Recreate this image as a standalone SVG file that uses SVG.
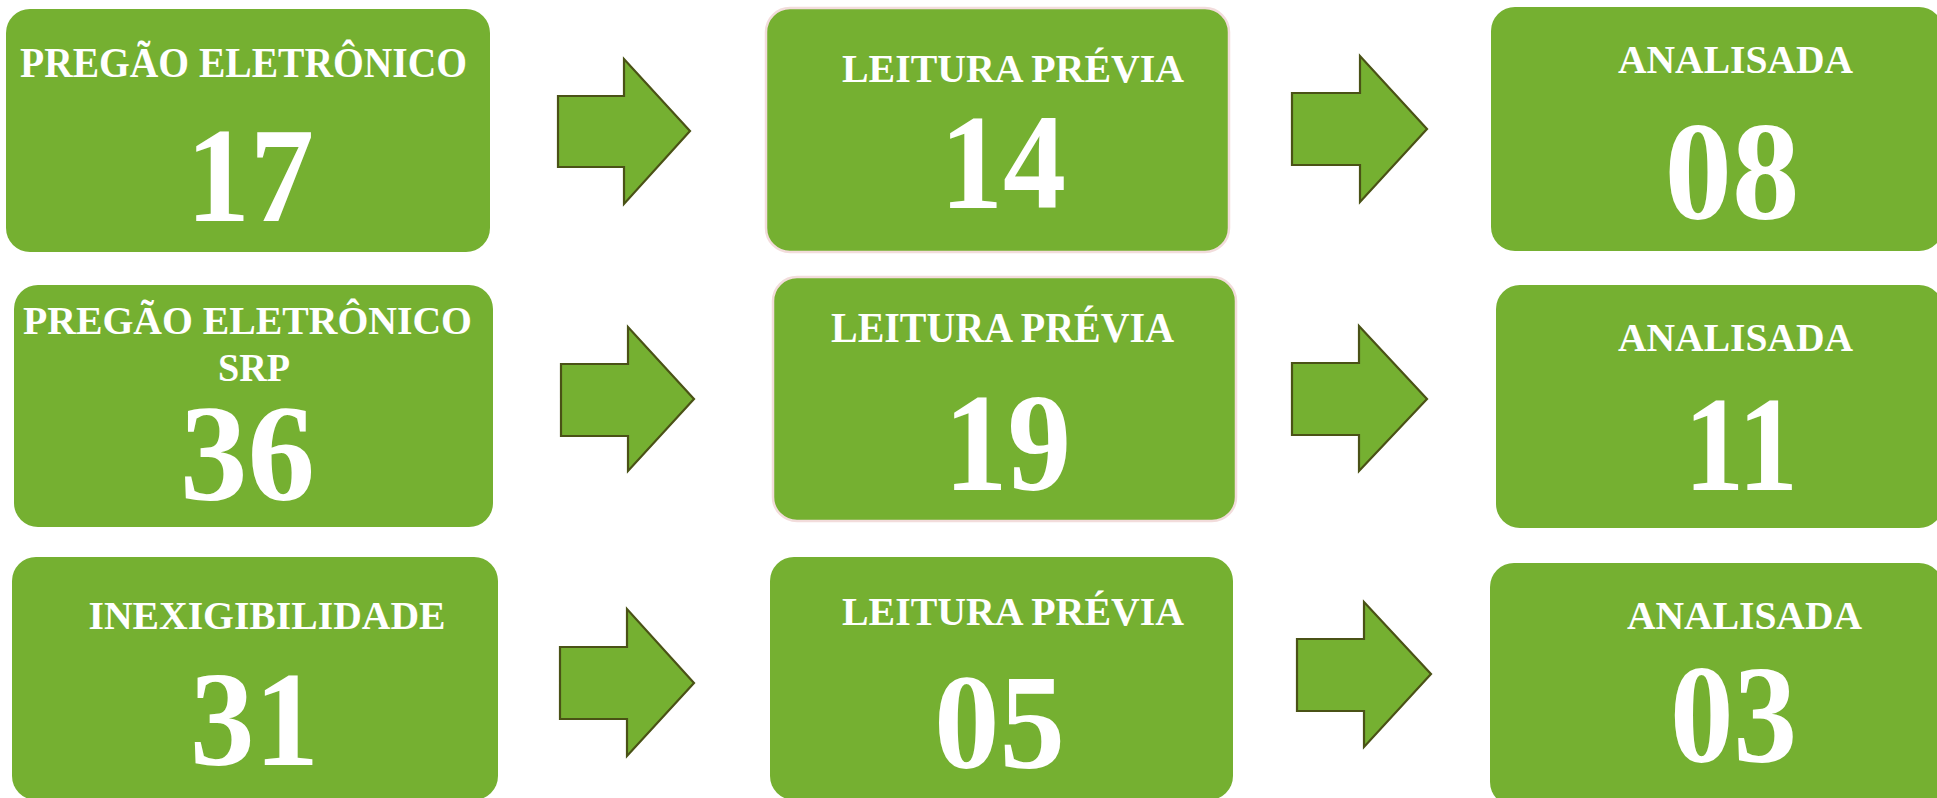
<svg xmlns="http://www.w3.org/2000/svg" width="1937" height="798" viewBox="0 0 1937 798">
<style>
.box{fill:#75B031;}
.boxb{fill:#75B031;stroke:#F2DCDB;stroke-width:2.5;}
.arrow{fill:#75B031;stroke:#4A5216;stroke-width:2.2;stroke-linejoin:miter;}
.lbl{font-family:"Liberation Serif","Times New Roman",serif;font-weight:bold;fill:#FFFFFF;text-anchor:middle;}
.num{font-family:"Liberation Serif","Times New Roman",serif;font-weight:bold;fill:#FFFFFF;text-anchor:middle;}
</style>
<rect width="1937" height="798" fill="#FFFFFF"/>
<g id="connectors">
<polygon class="arrow" points="558,96 624,96 624,59 690,131 624,204 624,167 558,167"/>
<polygon class="arrow" points="1292,93 1360,93 1360,56 1427,129 1360,202 1360,165 1292,165"/>
<polygon class="arrow" points="561,364 628,364 628,327 694,399 628,471 628,436 561,436"/>
<polygon class="arrow" points="1292,363 1359,363 1359,326 1427,399 1359,471 1359,435 1292,435"/>
<polygon class="arrow" points="560,647 627,647 627,609 694,683 627,756 627,719 560,719"/>
<polygon class="arrow" points="1297,639 1364,639 1364,602 1431,674 1364,747 1364,711 1297,711"/>
</g>
<g id="node-pregao">
<rect class="box" x="6" y="9" width="484" height="243" rx="24"/>
<text class="lbl" x="243.5" y="77" font-size="42" textLength="447" lengthAdjust="spacingAndGlyphs">PREGÃO ELETRÔNICO</text>
<text class="num" x="250" y="221" font-size="136" textLength="128" lengthAdjust="spacingAndGlyphs">17</text>
</g>
<g id="node-leitura-1">
<rect class="boxb" x="766" y="8" width="463" height="244" rx="24"/>
<text class="lbl" x="1013" y="82" font-size="41" textLength="342" lengthAdjust="spacingAndGlyphs">LEITURA PRÉVIA</text>
<text class="num" x="1003" y="208" font-size="135" textLength="126" lengthAdjust="spacingAndGlyphs">14</text>
</g>
<g id="node-analisada-1">
<rect class="box" x="1491" y="7" width="452" height="244" rx="24"/>
<text class="lbl" x="1735.5" y="73" font-size="41" textLength="235" lengthAdjust="spacingAndGlyphs">ANALISADA</text>
<text class="num" x="1732" y="219" font-size="140" textLength="135" lengthAdjust="spacingAndGlyphs">08</text>
</g>
<g id="node-pregao-srp">
<rect class="box" x="14" y="285" width="479" height="242" rx="24"/>
<text class="lbl" x="247.5" y="334" font-size="41" textLength="449" lengthAdjust="spacingAndGlyphs">PREGÃO ELETRÔNICO</text>
<text class="lbl" x="254" y="381" font-size="40" textLength="72" lengthAdjust="spacingAndGlyphs">SRP</text>
<text class="num" x="247.5" y="500" font-size="137" textLength="135" lengthAdjust="spacingAndGlyphs">36</text>
</g>
<g id="node-leitura-2">
<rect class="boxb" x="773" y="277" width="463" height="244" rx="24"/>
<text class="lbl" x="1002.5" y="342" font-size="42" textLength="343" lengthAdjust="spacingAndGlyphs">LEITURA PRÉVIA</text>
<text class="num" x="1007.5" y="490" font-size="139" textLength="127" lengthAdjust="spacingAndGlyphs">19</text>
</g>
<g id="node-analisada-2">
<rect class="box" x="1496" y="285" width="447" height="243" rx="24"/>
<text class="lbl" x="1735.5" y="351" font-size="40" textLength="235" lengthAdjust="spacingAndGlyphs">ANALISADA</text>
<text class="num" x="1741" y="490" font-size="135" textLength="114" lengthAdjust="spacingAndGlyphs">11</text>
</g>
<g id="node-inexigibilidade">
<rect class="box" x="12" y="557" width="486" height="243" rx="24"/>
<text class="lbl" x="267" y="629" font-size="39" textLength="357" lengthAdjust="spacingAndGlyphs">INEXIGIBILIDADE</text>
<text class="num" x="254.5" y="765" font-size="136" textLength="129" lengthAdjust="spacingAndGlyphs">31</text>
</g>
<g id="node-leitura-3">
<rect class="box" x="770" y="557" width="463" height="243" rx="24"/>
<text class="lbl" x="1013" y="625" font-size="41" textLength="342" lengthAdjust="spacingAndGlyphs">LEITURA PRÉVIA</text>
<text class="num" x="999.5" y="768" font-size="136" textLength="131" lengthAdjust="spacingAndGlyphs">05</text>
</g>
<g id="node-analisada-3">
<rect class="box" x="1490" y="563" width="453" height="243" rx="24"/>
<text class="lbl" x="1744.5" y="629" font-size="41" textLength="235" lengthAdjust="spacingAndGlyphs">ANALISADA</text>
<text class="num" x="1733.5" y="762" font-size="139" textLength="127" lengthAdjust="spacingAndGlyphs">03</text>
</g>
</svg>
